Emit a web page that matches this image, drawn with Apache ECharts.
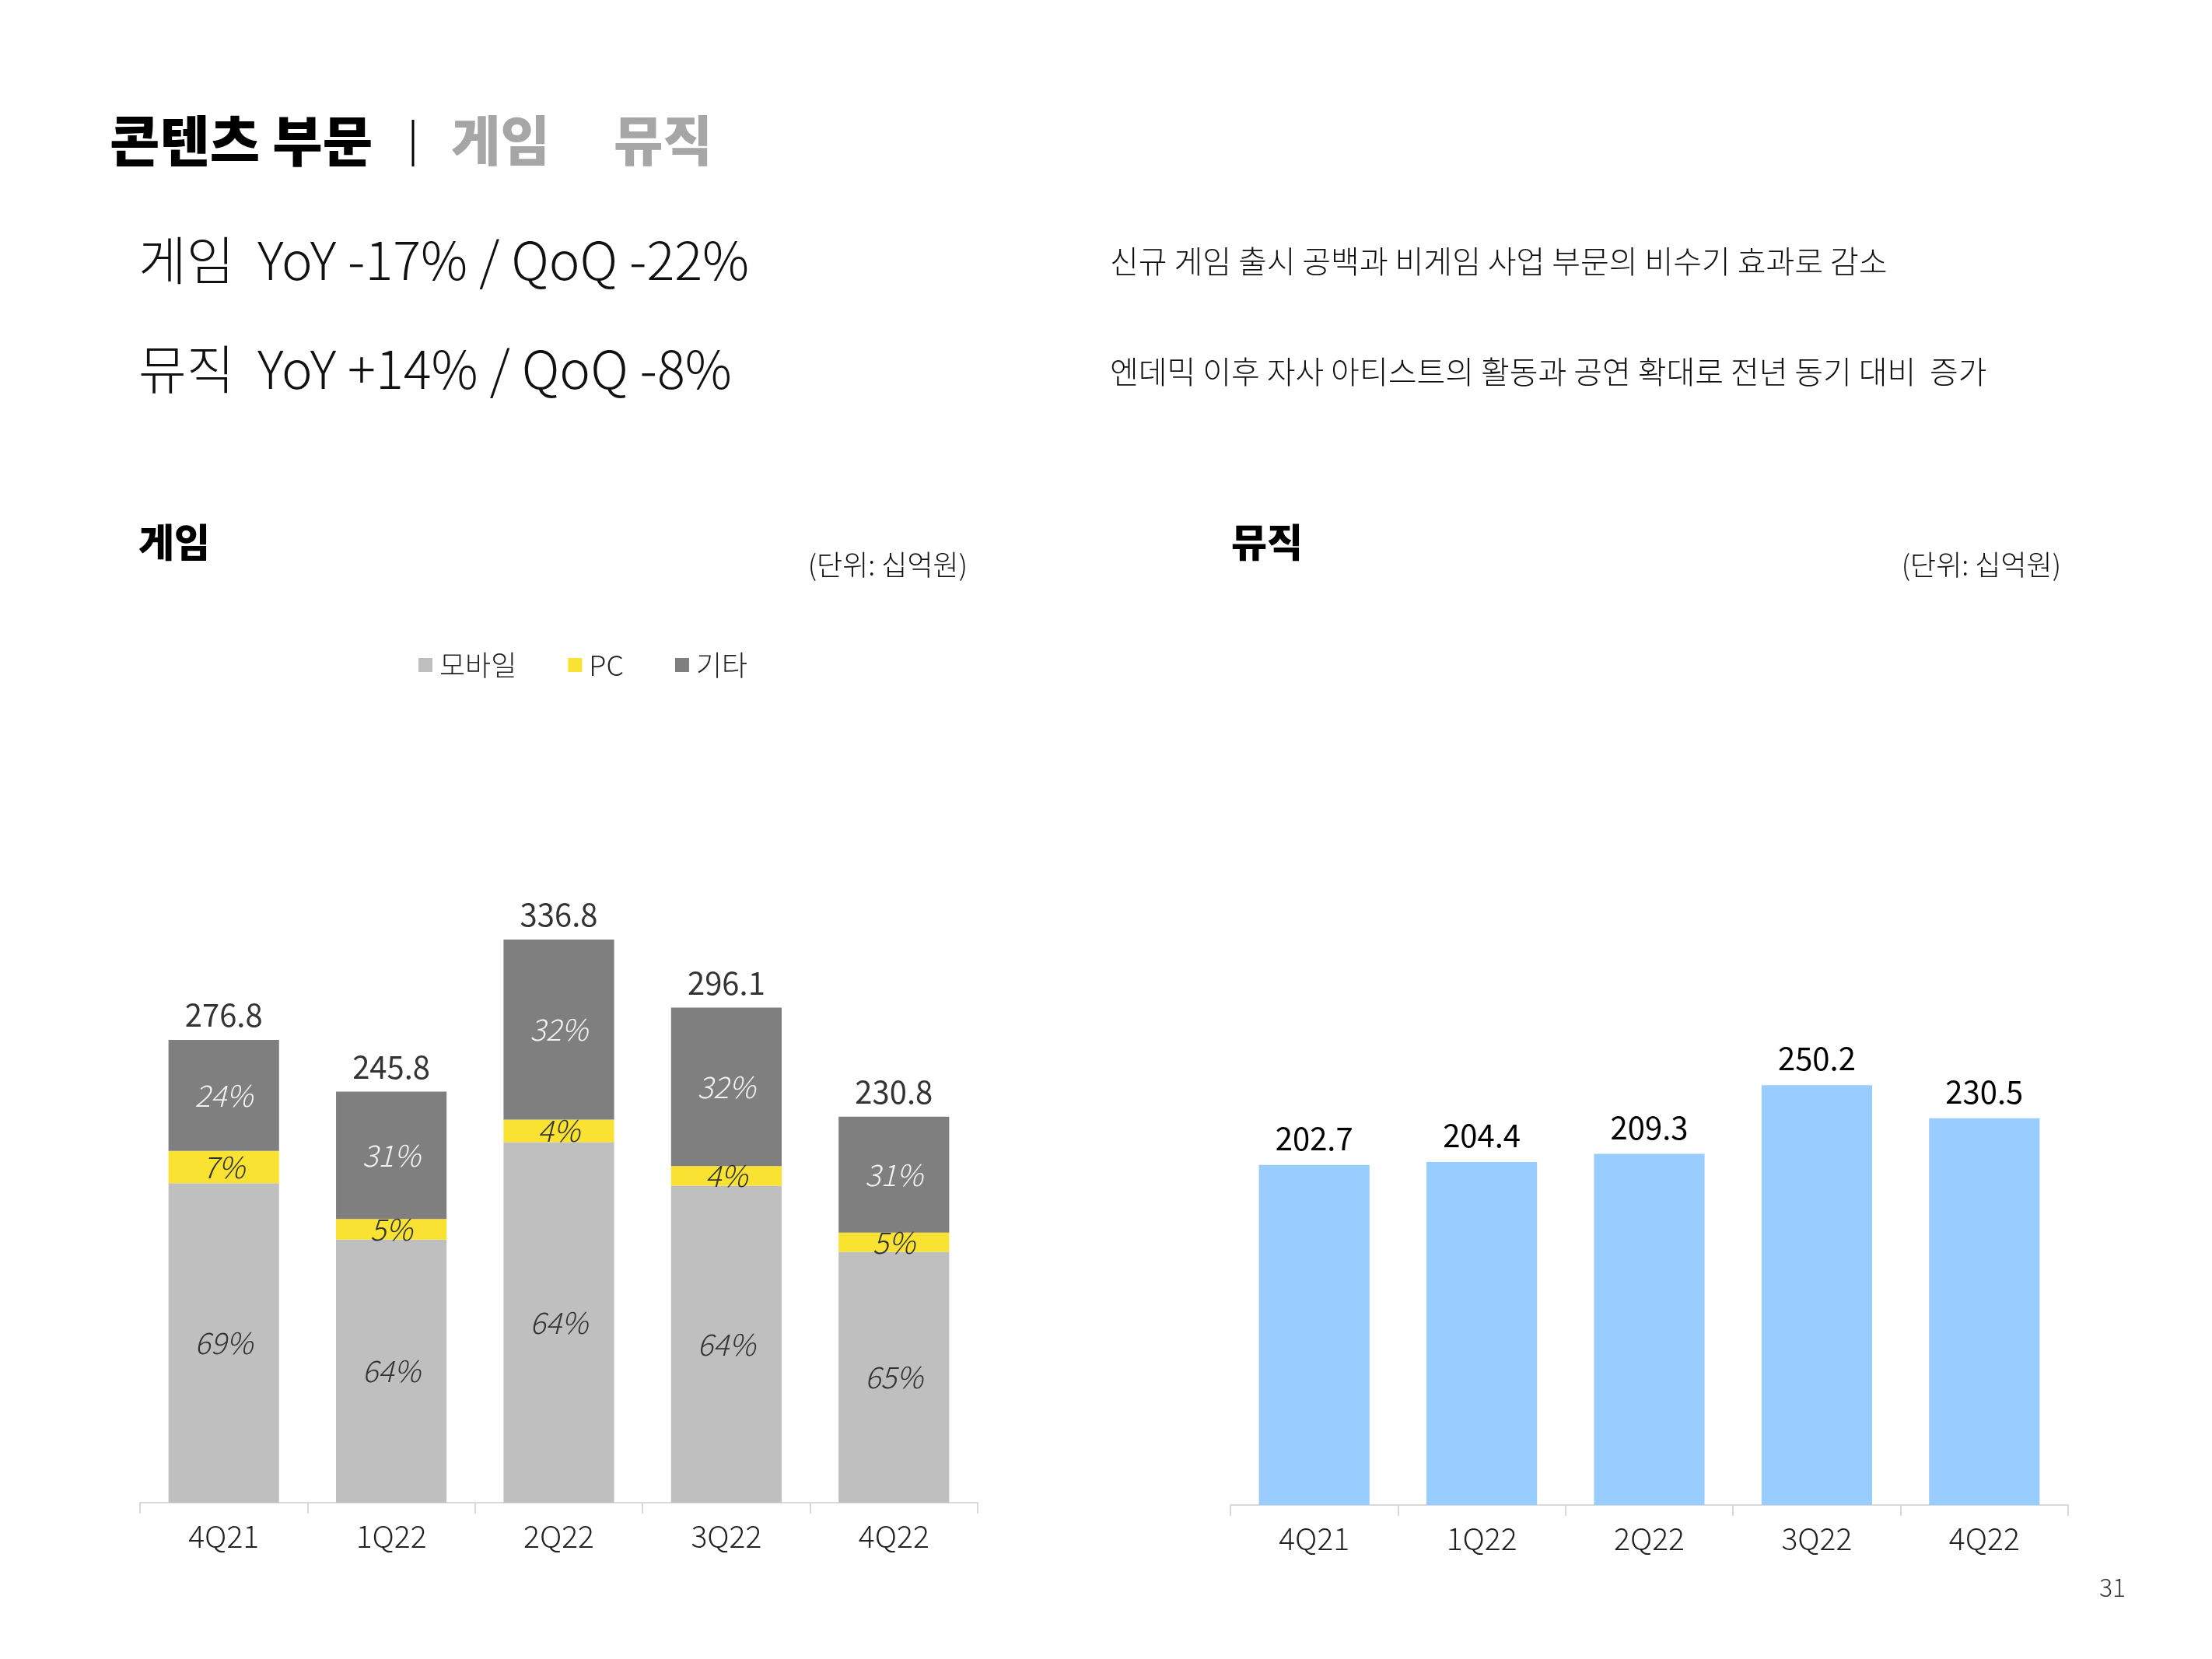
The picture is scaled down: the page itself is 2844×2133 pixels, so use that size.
<!DOCTYPE html>
<html>
<head>
<meta charset="utf-8">
<script src="https://cdn.jsdelivr.net/npm/echarts@6/dist/echarts.min.js"></script>
<style>
html,body{margin:0;padding:0;background:#fff;}
#chart{width:2844px;height:2133px;}
</style>
</head>
<body>
<div id="chart"></div>
<script>
var categories = ['4Q21', '1Q22', '2Q22', '3Q22', '4Q22'];
var gameMobile = [191.0, 157.3, 215.6, 189.5, 150.0];
var gamePC = [19.4, 12.3, 13.5, 11.8, 11.5];
var gameOther = [66.4, 76.2, 107.7, 94.8, 69.3];
var gameTotal = [276.8, 245.8, 336.8, 296.1, 230.8];
var mobilePct = ['69%', '64%', '64%', '64%', '65%'];
var pcPct = ['7%', '5%', '4%', '4%', '5%'];
var otherPct = ['24%', '31%', '32%', '32%', '31%'];
var music = [202.7, 204.4, 209.3, 250.2, 230.5];

var FONT = '"Noto Sans CJK KR", "Noto Sans", sans-serif';
var chart = echarts.init(document.getElementById('chart'));

function xAx(gi) {
  return {
    type: 'category', gridIndex: gi, data: categories,
    axisLine: {show: true, lineStyle: {color: '#D9D9D9', width: 2}},
    axisTick: {show: true, length: 14, lineStyle: {color: '#D9D9D9', width: 2}},
    axisLabel: {fontFamily: FONT, fontSize: 39, color: '#222', margin: 24, fontWeight: 300}
  };
}
function yAx(gi) {
  return {type: 'value', gridIndex: gi, min: 0, max: 400, show: false, splitLine: {show: false}};
}
function pctLabel(arr, color) {
  return {
    show: true, position: 'inside', fontFamily: FONT, fontSize: 38, fontStyle: 'italic',
    fontWeight: 300, color: color,
    formatter: function (p) { return arr[p.dataIndex]; }
  };
}

var option = {
  backgroundColor: '#ffffff',
  animation: false,
  grid: [
    {left: 180, right: 1587, top: 1072, bottom: 201},
    {left: 1582, right: 185, top: 1072, bottom: 198}
  ],
  xAxis: [xAx(0), xAx(1)],
  yAxis: [yAx(0), yAx(1)],
  legend: {
    data: ['모바일', 'PC', '기타'],
    left: 533, top: 832, itemGap: 66, itemWidth: 18, itemHeight: 18, icon: 'rect',
    textStyle: {fontFamily: FONT, fontSize: 36, color: '#222', fontWeight: 300, padding: [0, 0, 0, 4]}
  },
  series: [
    {name: '모바일', type: 'bar', stack: 'g', xAxisIndex: 0, yAxisIndex: 0, barWidth: '66%',
     itemStyle: {color: '#BFBFBF'}, data: gameMobile, label: pctLabel(mobilePct, '#333')},
    {name: 'PC', type: 'bar', stack: 'g', xAxisIndex: 0, yAxisIndex: 0, barWidth: '66%',
     itemStyle: {color: '#F9E231'}, data: gamePC, label: pctLabel(pcPct, '#333')},
    {name: '기타', type: 'bar', stack: 'g', xAxisIndex: 0, yAxisIndex: 0, barWidth: '66%',
     itemStyle: {color: '#7F7F7F'}, data: gameOther, label: pctLabel(otherPct, '#F2F2F2')},
    {name: 'total', type: 'scatter', xAxisIndex: 0, yAxisIndex: 0, symbolSize: 0, data: gameTotal,
     label: {show: true, position: 'top', distance: 12, fontFamily: FONT, fontSize: 40, color: '#000',
       formatter: function (p) { return gameTotal[p.dataIndex].toFixed(1); }}},
    {name: '뮤직', type: 'bar', xAxisIndex: 1, yAxisIndex: 1, barWidth: '66%',
     itemStyle: {color: '#99CCFF'}, data: music,
     label: {show: true, position: 'top', distance: 14, fontFamily: FONT, fontSize: 40, color: '#000',
       formatter: function (p) { return music[p.dataIndex].toFixed(1); }}}
  ],
  graphic: [
    {type: 'text', left: 141, top: 146, style: {text: '콘텐츠 부문', fontFamily: FONT, fontSize: 70, fontWeight: 900, fill: '#000'}},
    {type: 'line', shape: {x1: 531, y1: 154, x2: 531, y2: 214}, style: {stroke: '#000', lineWidth: 3}},
    {type: 'text', left: 580, top: 146, style: {text: '게임', fontFamily: FONT, fontSize: 69, fontWeight: 900, fill: '#A6A6A6'}},
    {type: 'text', left: 789, top: 146, style: {text: '뮤직', fontFamily: FONT, fontSize: 69, fontWeight: 900, fill: '#A6A6A6'}},
    {type: 'text', left: 178, top: 301, style: {text: '게임  YoY -17% / QoQ -22%', fontFamily: FONT, fontSize: 67, fontWeight: 300, fill: '#111'}},
    {type: 'text', left: 178, top: 441, style: {text: '뮤직  YoY +14% / QoQ -8%', fontFamily: FONT, fontSize: 67, fontWeight: 300, fill: '#111'}},
    {type: 'text', left: 1427, top: 316, style: {text: '신규 게임 출시 공백과 비게임 사업 부문의 비수기 효과로 감소', fontFamily: FONT, fontSize: 40, fontWeight: 300, fill: '#111'}},
    {type: 'text', left: 1427, top: 458, style: {text: '엔데믹 이후 자사 아티스트의 활동과 공연 확대로 전년 동기 대비  증가', fontFamily: FONT, fontSize: 40, fontWeight: 300, fill: '#111'}},
    {type: 'text', left: 178, top: 672, style: {text: '게임', fontFamily: FONT, fontSize: 50, fontWeight: 900, fill: '#000'}},
    {type: 'text', left: 1583, top: 672, style: {text: '뮤직', fontFamily: FONT, fontSize: 50, fontWeight: 900, fill: '#000'}},
    {type: 'text', right: 1600, top: 708, style: {text: '(단위: 십억원)', fontFamily: FONT, fontSize: 36, fontWeight: 300, fill: '#111'}},
    {type: 'text', right: 194, top: 708, style: {text: '(단위: 십억원)', fontFamily: FONT, fontSize: 36, fontWeight: 300, fill: '#111'}},
    {type: 'text', left: 2699, top: 2025, style: {text: '31', fontFamily: FONT, fontSize: 32, fontWeight: 300, fill: '#333'}}
  ]
};
chart.setOption(option);
</script>
</body>
</html>
